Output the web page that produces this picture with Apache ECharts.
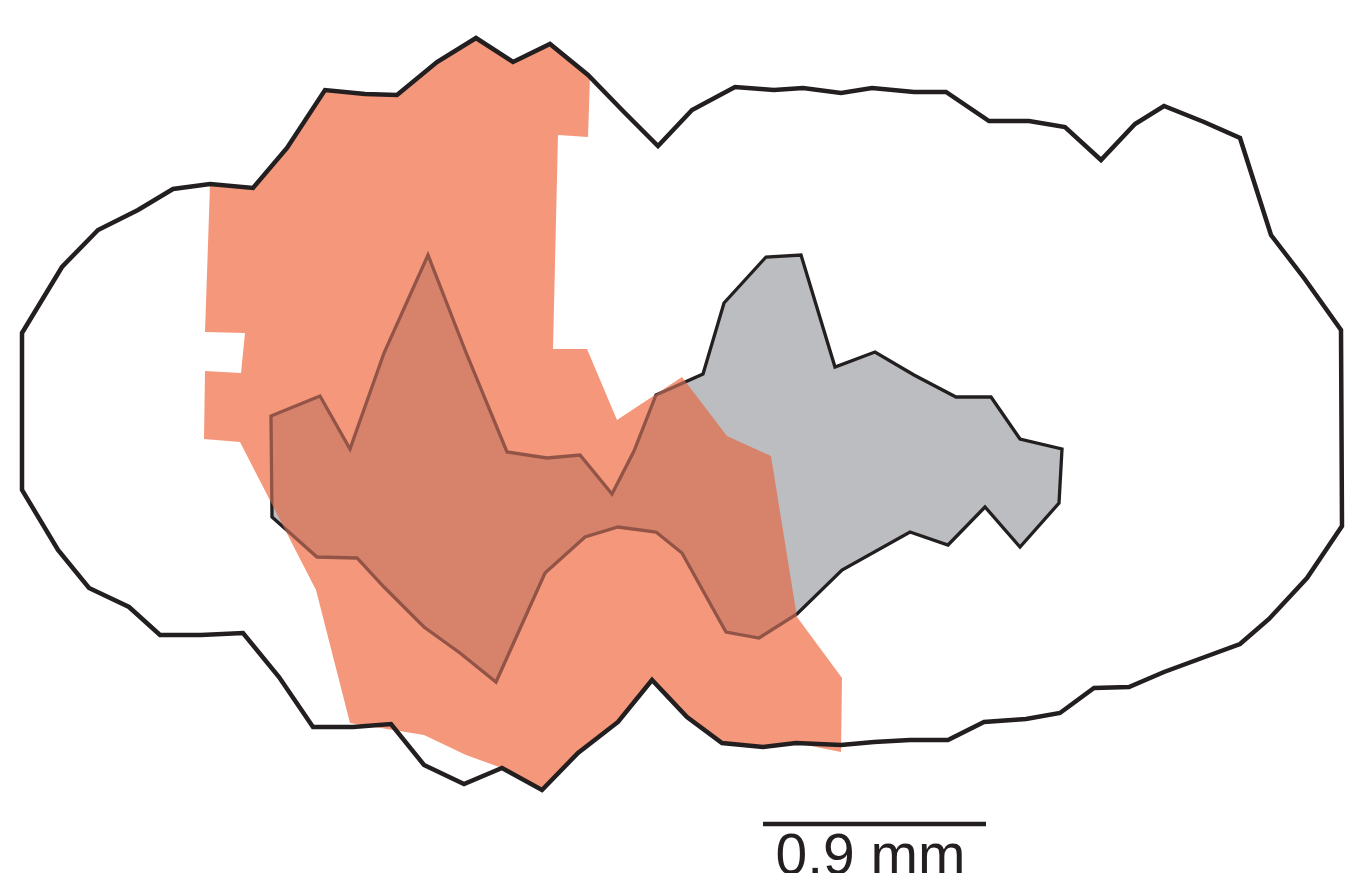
<!DOCTYPE html>
<html>
<head>
<meta charset="utf-8">
<script src="https://cdn.jsdelivr.net/npm/echarts@6/dist/echarts.min.js"></script>
<style>
html,body{margin:0;padding:0;background:#fff;}
#chart{width:1361px;height:873px;}
</style>
</head>
<body>
<div id="chart"></div>
<script>
// Polygon vertices in drawing units (x, y)
var outlinePoly = [[22,333],[62,267],[98,230],[138,210],[173,189],[210,184],[253,188],[287,148],[325,90],[365,94],[397,95],[437,62],[476,38],[513,62],[550,44],[588,75],[624,112],[658,146],[692,110],[735,87],[774,90],[803,88],[841,93],[872,88],[914,92],[946,92],[989,121],[1029,121],[1065,127],[1101,160],[1135,124],[1164,106],[1204,122],[1240,138],[1271,235],[1304,278],[1341,330],[1342,526],[1307,578],[1269,619],[1240,644],[1202,658],[1164,672],[1129,687],[1094,688],[1060,713],[1026,719],[984,722],[948,740],[910,740],[874,742],[841,745],[796,743],[763,747],[722,743],[687,717],[652,680],[618,722],[578,753],[542,790],[502,768],[464,784],[424,765],[391,724],[353,727],[313,727],[279,677],[243,633],[201,635],[160,635],[129,607],[89,588],[58,550],[22,490]];

var grayPoly = [[271,416],[320,396],[350,449],[384,353],[428,255],[465,350],[507,452],[547,458],[580,455],[612,494],[634,451],[656,395],[703,374],[724,303],[766,257],[801,255],[835,367],[875,352],[914,375],[956,397],[991,397],[1020,439],[1062,449],[1059,503],[1020,547],[985,507],[948,545],[910,532],[842,570],[797,614],[759,638],[726,632],[682,553],[656,532],[618,527],[585,537],[545,573],[496,682],[460,653],[424,627],[384,587],[357,558],[317,557],[272,517]];

var orangePoly = [[210,185],[253,188],[287,148],[325,90],[365,94],[397,95],[437,62],[476,38],[513,60],[550,44],[590,76],[588,137],[558,135],[553,349],[587,349],[617,420],[682,377],[727,436],[771,456],[797,617],[842,678],[841,752],[796,743],[763,747],[722,743],[687,717],[652,680],[618,722],[578,753],[542,791],[502,768],[466,755],[424,735],[350,723],[316,590],[240,442],[204,439],[205,371],[241,373],[245,333],[205,332]];

var scaleBarX = [763, 986];
var scaleBarY = 824;
var scaleBarLabel = '0.9 mm';

function polyRender(points, style) {
  return function (params, api) {
    var pts = points.map(function (p) { return api.coord(p); });
    return { type: 'polygon', shape: { points: pts }, style: style };
  };
}

var chart = echarts.init(document.getElementById('chart'), null, {renderer: 'canvas'});
chart.setOption({
  backgroundColor: '#ffffff',
  animation: false,
  grid: {left: 0, right: 0, top: 0, bottom: 0},
  xAxis: {type: 'value', min: 0, max: 1361, show: false},
  yAxis: {type: 'value', min: 0, max: 873, inverse: true, show: false},
  series: [
    {
      type: 'custom', name: 'gray', data: [[0, 0]], silent: true, z: 1,
      renderItem: polyRender(grayPoly, {fill: '#BCBDC1', stroke: '#231F20', lineWidth: 3.3, lineJoin: 'miter'})
    },
    {
      type: 'custom', name: 'orangeTint', data: [[0, 0]], silent: true, z: 2, blendMode: 'multiply',
      renderItem: polyRender(orangePoly, {fill: 'rgb(115,77,60)', stroke: null})
    },
    {
      type: 'custom', name: 'orange', data: [[0, 0]], silent: true, z: 3, blendMode: 'lighter',
      renderItem: polyRender(orangePoly, {fill: 'rgb(130,74,62)', stroke: null})
    },
    {
      type: 'custom', name: 'outline', data: [[0, 0]], silent: true, z: 4,
      renderItem: polyRender(outlinePoly, {fill: null, stroke: '#231F20', lineWidth: 4.5, lineJoin: 'miter'})
    },
    {
      type: 'custom', name: 'scale', data: [[scaleBarX[0], scaleBarY, scaleBarX[1]]], silent: true, z: 5,
      renderItem: function (params, api) {
        var a = api.coord([api.value(0), api.value(1)]);
        var b = api.coord([api.value(2), api.value(1)]);
        return {
          type: 'group',
          children: [
            {type: 'line', shape: {x1: a[0], y1: a[1], x2: b[0], y2: b[1]}, style: {stroke: '#231F20', lineWidth: 4.5}},
            {type: 'text', style: {text: scaleBarLabel, x: (a[0] + b[0]) / 2 - 4, y: a[1] + 6, align: 'center', verticalAlign: 'top',
              fill: '#231F20', font: '57px "Liberation Sans", Arial, sans-serif'}}
          ]
        };
      }
    }
  ]
});
</script>
</body>
</html>
